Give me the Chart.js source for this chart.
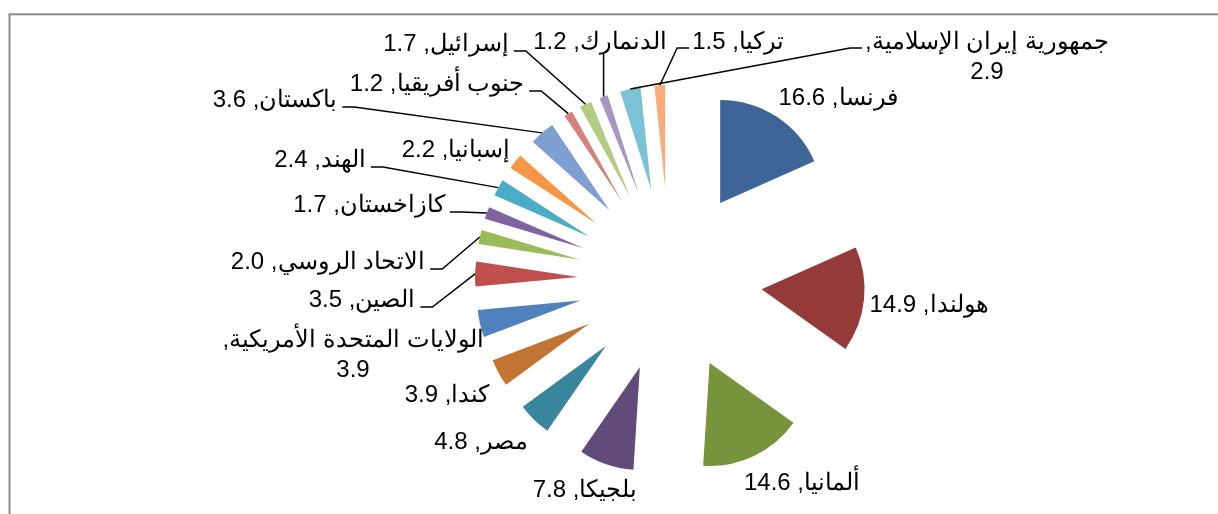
<!DOCTYPE html>
<html lang="ar">
<head>
  <meta charset="UTF-8">
  <title>Pie chart</title>
  <style>
    body {
      margin: 0;
      background: #fff;
    }
    #wrap {
      width: 1218px;
      height: 514px;
      overflow: hidden;
    }
  </style>
</head>
<body>

<div id="wrap">
  <canvas id="pieChart" width="1218" height="514"></canvas>
</div>

<script src="https://cdn.jsdelivr.net/npm/chart.js"></script>
<script>
// data, clockwise from 12 o'clock
const categories = ['فرنسا', 'هولندا', 'ألمانيا', 'بلجيكا', 'مصر', 'كندا',
  'الولايات المتحدة الأمريكية', 'الصين', 'الاتحاد الروسي', 'كازاخستان', 'الهند', 'إسبانيا',
  'باكستان', 'جنوب أفريقيا', 'إسرائيل', 'الدنمارك', 'جمهورية إيران الإسلامية', 'تركيا'];
const values = [16.6, 14.9, 14.6, 7.8, 4.8, 3.9, 3.9, 3.5, 2.0, 1.7, 2.4, 2.2, 3.6, 1.2, 1.7, 1.2, 2.9, 1.5];

const colors = ['#3d6597', '#943b3a', '#77933c', '#614b7b', '#37869b', '#c27433',
  '#4f81bd', '#c0504d', '#9bbb59', '#8064a2', '#4bacc6', '#f79646',
  '#7f9fd0', '#d5827f', '#b3cc83', '#a597c0', '#7cc2d6', '#f9ab78'];

// label placement (centre of text) and which side the leader line leaves from
const labelPos = [[838, 98], [929, 305], [802, 483], [585, 490], [481, 442], [447, 395],
  [353, 355], [362, 300], [328, 262], [369, 205], [320, 160], [456, 150],
  [275, 100], [437, 84], [446, 44], [600, 42], [987, 57], [738, 42]];
const leaderSide = ['', '', '', '', '', '', '', 'r', 'r', 'r', 'r', '', 'r', 'r', 'r', 'b', 'l', 'l'];

const EXPLODE = 92;
const FONT = '24px "Liberation Sans", Arial, sans-serif';

const explode = {
  id: 'explode',
  afterDatasetUpdate(chart, args) {
    chart.getDatasetMeta(args.index).data.forEach(arc => {
      const mid = (arc.startAngle + arc.endAngle) / 2;
      arc.x += Math.cos(mid) * EXPLODE;
      arc.y += Math.sin(mid) * EXPLODE;
    });
  }
};

const frame = {
  id: 'frame',
  beforeDraw(chart) {
    const ctx = chart.ctx;
    ctx.save();
    ctx.strokeStyle = '#8a8a8a';
    ctx.lineWidth = 2;
    ctx.strokeRect(9.5, 14.3, 1400, 700);
    ctx.restore();
  }
};

const pieLabels = {
  id: 'pieLabels',
  afterDatasetsDraw(chart) {
    const ctx = chart.ctx;
    const arcs = chart.getDatasetMeta(0).data;
    ctx.save();
    ctx.font = FONT;
    ctx.fillStyle = '#000';
    ctx.strokeStyle = '#000';
    ctx.lineWidth = 1.5;
    ctx.direction = 'rtl';
    ctx.textAlign = 'center';
    ctx.textBaseline = 'middle';
    arcs.forEach((arc, i) => {
      let text = categories[i] + ', ' + values[i].toFixed(1);
      let lines = [text];
      if (ctx.measureText(text).width > 220) {
        lines = [categories[i] + ',', values[i].toFixed(1)];
      }
      const [cx, cy] = labelPos[i];
      const lh = 30;
      const top = cy - (lines.length - 1) * lh / 2;
      lines.forEach((l, k) => ctx.fillText(l, cx, top + k * lh));

      const side = leaderSide[i];
      if (!side) return;
      const mid = (arc.startAngle + arc.endAngle) / 2;
      const tx = arc.x + Math.cos(mid) * arc.outerRadius;
      const ty = arc.y + Math.sin(mid) * arc.outerRadius;
      const w = ctx.measureText(lines[0]).width;
      ctx.beginPath();
      if (side === 'r') {
        const sx = cx + w / 2 + 5, sy = top + 7;
        ctx.moveTo(sx, sy);
        ctx.lineTo(sx + 12, sy);
      } else if (side === 'l') {
        const sx = cx - w / 2 - 3, sy = top + 6;
        ctx.moveTo(sx, sy);
        ctx.lineTo(sx - 12, sy);
      } else {
        ctx.moveTo(tx, cy + 12);
      }
      ctx.lineTo(tx, ty);
      ctx.stroke();
    });
    ctx.restore();
  }
};

new Chart(document.getElementById('pieChart'), {
  type: 'pie',
  data: {
    labels: categories,
    datasets: [{
      data: values,
      backgroundColor: colors,
      borderWidth: 0,
      radius: 103
    }]
  },
  options: {
    responsive: false,
    animation: false,
    layout: { padding: { left: 122, top: 46, right: 0, bottom: 0 } },
    plugins: {
      legend: { display: false },
      tooltip: { enabled: false }
    }
  },
  plugins: [frame, explode, pieLabels]
});
</script>
</body>
</html>
